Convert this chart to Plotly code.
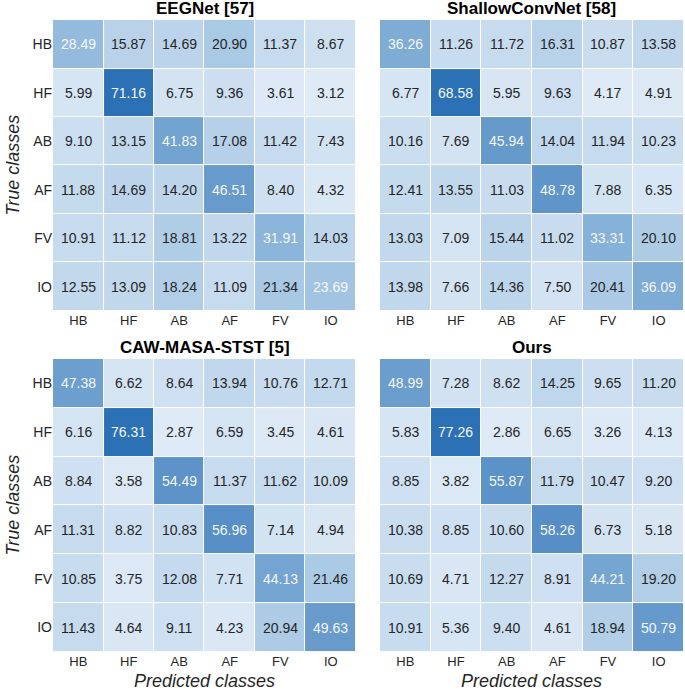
import plotly.graph_objects as go

# classes and the four confusion matrices (row = true, col = predicted), in %
classes = ['HB', 'HF', 'AB', 'AF', 'FV', 'IO']

eegnet = [
    [28.49, 15.87, 14.69, 20.90, 11.37, 8.67],
    [5.99, 71.16, 6.75, 9.36, 3.61, 3.12],
    [9.10, 13.15, 41.83, 17.08, 11.42, 7.43],
    [11.88, 14.69, 14.20, 46.51, 8.40, 4.32],
    [10.91, 11.12, 18.81, 13.22, 31.91, 14.03],
    [12.55, 13.09, 18.24, 11.09, 21.34, 23.69],
]
shallow = [
    [36.26, 11.26, 11.72, 16.31, 10.87, 13.58],
    [6.77, 68.58, 5.95, 9.63, 4.17, 4.91],
    [10.16, 7.69, 45.94, 14.04, 11.94, 10.23],
    [12.41, 13.55, 11.03, 48.78, 7.88, 6.35],
    [13.03, 7.09, 15.44, 11.02, 33.31, 20.10],
    [13.98, 7.66, 14.36, 7.50, 20.41, 36.09],
]
caw = [
    [47.38, 6.62, 8.64, 13.94, 10.76, 12.71],
    [6.16, 76.31, 2.87, 6.59, 3.45, 4.61],
    [8.84, 3.58, 54.49, 11.37, 11.62, 10.09],
    [11.31, 8.82, 10.83, 56.96, 7.14, 4.94],
    [10.85, 3.75, 12.08, 7.71, 44.13, 21.46],
    [11.43, 4.64, 9.11, 4.23, 20.94, 49.63],
]
ours = [
    [48.99, 7.28, 8.62, 14.25, 9.65, 11.20],
    [5.83, 77.26, 2.86, 6.65, 3.26, 4.13],
    [8.85, 3.82, 55.87, 11.79, 10.47, 9.20],
    [10.38, 8.85, 10.60, 58.26, 6.73, 5.18],
    [10.69, 4.71, 12.27, 8.91, 44.21, 19.20],
    [10.91, 5.36, 9.40, 4.61, 18.94, 50.79],
]

titles = ['EEGNet [57]', 'ShallowConvNet [58]', 'CAW-MASA-STST [5]', 'Ours']
matrices = [eegnet, shallow, caw, ours]

FONT = 'Liberation Sans, Arial, sans-serif'
blues = [[0.0, '#deeaf6'], [0.37, '#94bbdd'], [1.0, '#2c70b5']]

xdoms = [[0.0774, 0.5197], [0.5547, 0.9985]]
ydoms = [[0.5493, 0.971], [0.0551, 0.4797]]

fig = go.Figure()
annotations = []

for i, (title, z) in enumerate(zip(titles, matrices)):
    n = i + 1
    sfx = '' if n == 1 else str(n)
    col, row = i % 2, i // 2
    flat = [v for r in z for v in r]

    fig.add_trace(go.Heatmap(
        z=z, x=classes, y=classes,
        colorscale=blues, zmin=min(flat), zmax=max(flat),
        showscale=False, xgap=1, ygap=1, hoverinfo='skip',
        xaxis='x' + sfx, yaxis='y' + sfx,
    ))

    # cell labels, white on the diagonal
    for r_i, r in enumerate(z):
        for c_i, v in enumerate(r):
            annotations.append(dict(
                x=classes[c_i], y=classes[r_i], xref='x' + sfx, yref='y' + sfx,
                text=f'{v:.2f}', showarrow=False,
                font=dict(family=FONT, size=14,
                          color='#f4f7fb' if r_i == c_i else '#262626'),
            ))

    fig.layout['xaxis' + sfx] = dict(
        domain=xdoms[col], anchor='y' + sfx, showgrid=False, zeroline=False,
        ticks='', tickfont=dict(family=FONT, size=13, color='#262626'),
        automargin=False, fixedrange=True,
    )
    fig.layout['yaxis' + sfx] = dict(
        domain=ydoms[row], anchor='x' + sfx, showgrid=False, zeroline=False,
        autorange='reversed', ticks='', showticklabels=(col == 0),
        tickfont=dict(family=FONT, size=14, color='#262626'),
        automargin=False, fixedrange=True,
    )

    # panel title
    annotations.append(dict(
        x=sum(xdoms[col]) / 2, xanchor='center', y=ydoms[row][1],
        xref='paper', yref='paper', yanchor='bottom', yshift=0,
        text=f'<b>{title}</b>', showarrow=False,
        font=dict(family=FONT, size=17, color='black'),
    ))

    if col == 0:
        annotations.append(dict(
            x=0.0, xanchor='left', xshift=1, y=sum(ydoms[row]) / 2,
            yanchor='middle', xref='paper', yref='paper',
            text='<i>True classes</i>', textangle=-90, showarrow=False,
            font=dict(family=FONT, size=18, color='#262626'),
        ))
    if row == 1:
        annotations.append(dict(
            x=sum(xdoms[col]) / 2, xanchor='center', y=0.0, yanchor='bottom',
            yshift=-2, xref='paper', yref='paper', borderpad=0,
            text='<i>Predicted classes</i>', showarrow=False,
            font=dict(family=FONT, size=18, color='#262626'),
        ))

fig.update_layout(
    width=685, height=690,
    margin=dict(l=0, r=0, t=0, b=0),
    paper_bgcolor='white', plot_bgcolor='white',
    annotations=annotations,
    showlegend=False,
)

fig.write_html('out.html', config={'displayModeBar': False},
               post_script="document.body.style.margin='0';")
